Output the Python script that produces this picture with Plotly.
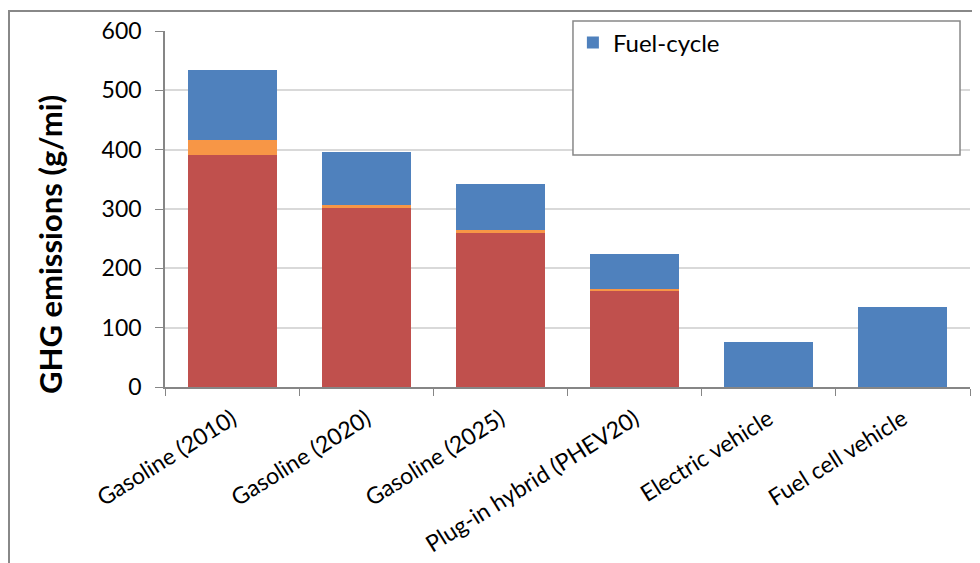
import plotly.graph_objects as go

categories = ["Gasoline (2010)", "Gasoline (2020)", "Gasoline (2025)",
              "Plug-in hybrid (PHEV20)", "Electric vehicle", "Fuel cell vehicle"]
tailpipe = [391, 302, 260, 161, 0, 0]
vehicle_cycle = [26, 5, 5, 4, 0, 0]
fuel_cycle = [118, 89, 77, 59, 76, 135]
y_ticks = [0, 100, 200, 300, 400, 500, 600]

FONT = "Lato, Open Sans, sans-serif"

fig = go.Figure()
fig.add_trace(go.Bar(x=categories, y=tailpipe, name="Tailpipe",
                     marker=dict(color="#C0504D", line=dict(width=0)), showlegend=False))
fig.add_trace(go.Bar(x=categories, y=vehicle_cycle, name="Vehicle-cycle",
                     marker=dict(color="#F79646", line=dict(width=0)), showlegend=False))
fig.add_trace(go.Bar(x=categories, y=fuel_cycle, name="Fuel-cycle",
                     marker=dict(color="#4F81BD", line=dict(width=0)), showlegend=True))

# the page body has an 8px margin, so the figure is drawn 8px in from the window edge
fig.update_layout(
    barmode="stack",
    bargap=0.336,
    width=972, height=555,
    margin=dict(l=157, r=10, t=23, b=176),
    paper_bgcolor="white", plot_bgcolor="white",
    font=dict(family=FONT, size=22, color="black"),
    showlegend=True,
    legend=dict(x=0.5067, y=1.03, xanchor="left", yanchor="top",
                bgcolor="rgba(0,0,0,0)", borderwidth=0,
                font=dict(size=24, family=FONT)),
    xaxis=dict(showline=True, linecolor="#868686", linewidth=1.5, automargin=False,
               ticks="outside", tickson="boundaries", ticklen=7, tickcolor="#868686",
               tickangle=-32, tickfont=dict(size=23), ticklabelstandoff=8),
    yaxis=dict(range=[0, 600], tickvals=y_ticks, showline=True, linecolor="#868686",
               linewidth=1.5, ticks="outside", ticklen=8, tickcolor="#868686",
               showgrid=True, gridcolor="#d9d9d9", gridwidth=1.5, automargin=False,
               tickfont=dict(size=23), ticklabelstandoff=9),
    annotations=[
        dict(text="<b>GHG emissions (g/mi)</b>", xref="paper", yref="paper",
             x=-0.1429, y=0.4017, xanchor="center", yanchor="middle",
             textangle=-90, showarrow=False, font=dict(size=31, family=FONT)),
    ],
    shapes=[
        dict(type="rect", xref="paper", yref="paper", x0=-0.1938, x1=1.08, y0=-0.65, y1=1.0562,
             line=dict(color="#888888", width=2), fillcolor="rgba(0,0,0,0)", layer="above"),
        dict(type="rect", xref="paper", yref="paper", x0=0.5068, x1=0.9876, y0=0.6517, y1=1.028,
             line=dict(color="#888888", width=1.5), fillcolor="white", layer="above"),
    ],
)

fig.write_html("out.html")
